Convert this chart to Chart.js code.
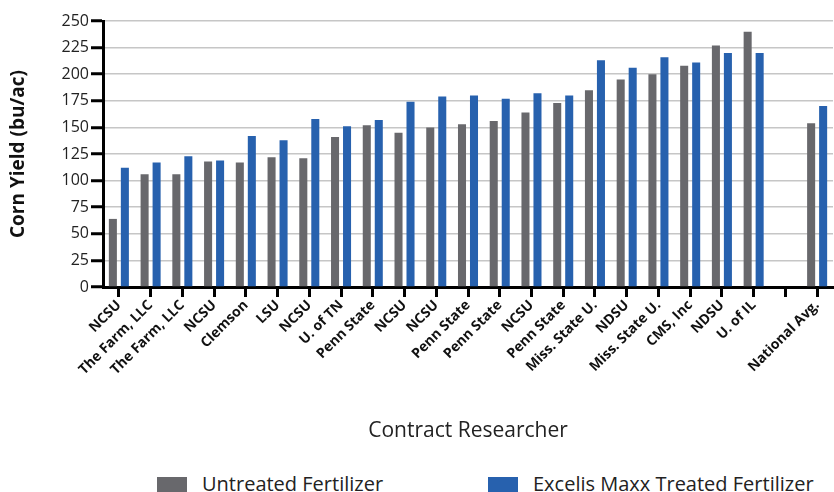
<!DOCTYPE html>
<html>
<head>
<meta charset="utf-8">
<script src="https://cdn.jsdelivr.net/npm/chart.js@4.4.1/dist/chart.umd.min.js"></script>
<style>
  body { margin: 0; background: #fff; font-family: "Open Sans", sans-serif; }
  #wrap { position: relative; width: 834px; height: 492px; overflow: hidden; }
  #box { position: absolute; left: 0; top: 0; width: 834px; height: 455px; }
  .lg { position: absolute; top: 474px; display: flex; align-items: flex-start; font-size: 20px; line-height: 20px; color: #222; }
  .lg span.sw { display: inline-block; width: 30px; height: 16px; margin-top: 3px; margin-right: 15px; }
</style>
</head>
<body>
<div id="wrap">
  <div id="box"><canvas id="yieldChart"></canvas></div>
  <div class="lg" id="lg0" style="left:157px"></div>
  <div class="lg" id="lg1" style="left:488px"></div>
</div>
<script>
const researchers = ["NCSU", "The Farm, LLC", "The Farm, LLC", "NCSU", "Clemson", "LSU", "NCSU", "U. of TN",
  "Penn State", "NCSU", "NCSU", "Penn State", "Penn State", "NCSU", "Penn State", "Miss. State U.",
  "NDSU", "Miss. State U.", "CMS, Inc", "NDSU", "U. of IL", "", "National Avg."];
const untreated = [64, 106, 106, 118, 117, 122, 121, 141, 152, 145, 150, 153, 156, 164, 173, 185,
  195, 200, 208, 227, 240, null, 154];
const excelisMaxx = [112, 117, 123, 119, 142, 138, 158, 151, 157, 174, 179, 180, 177, 182, 180, 213,
  206, 216, 211, 220, 220, null, 170];
const yTicks = [0, 25, 50, 75, 100, 125, 150, 175, 200, 225, 250];

const grayColor = "#68686c";
const blueColor = "#2761ae";

const ctx = document.getElementById("yieldChart").getContext("2d");
const chart = new Chart(ctx, {
    type: "bar",
    data: {
        labels: researchers,
        datasets: [{
            label: "Untreated Fertilizer",
            data: untreated,
            backgroundColor: grayColor,
            categoryPercentage: 0.756,
            barPercentage: 0.67
        }, {
            label: "Excelis Maxx Treated Fertilizer",
            data: excelisMaxx,
            backgroundColor: blueColor,
            categoryPercentage: 0.756,
            barPercentage: 0.67
        }]
    },
    options: {
        responsive: true,
        maintainAspectRatio: false,
        animation: false,
        layout: { padding: { top: 21, right: 1, left: 0, bottom: 0 } },
        plugins: {
            legend: { display: false },
            tooltip: { enabled: false }
        },
        scales: {
            x: {
                afterFit: s => { s.height = 455 - 287; },
                border: { color: "#000", width: 3 },
                grid: {
                    offset: false,
                    drawOnChartArea: false,
                    drawTicks: true,
                    tickLength: 10,
                    color: "#000",
                    lineWidth: 3
                },
                ticks: {
                    autoSkip: false,
                    minRotation: 45,
                    maxRotation: 45,
                    padding: 0,
                    color: "#111",
                    font: { family: "Open Sans", size: 14, weight: "bold" }
                },
                title: {
                    display: true,
                    text: "Contract Researcher",
                    color: "#222",
                    padding: { top: 0, bottom: 11 },
                    font: { family: "Open Sans", size: 21 }
                }
            },
            y: {
                min: 0,
                max: 250,
                afterFit: s => { s.width = 103; },
                afterBuildTicks: s => { s.ticks = yTicks.map(v => ({ value: v })); },
                border: { color: "#000", width: 3 },
                grid: {
                    color: "#c6c6c6",
                    lineWidth: 1.5,
                    tickColor: "#000",
                    tickWidth: 3,
                    tickLength: 12
                },
                ticks: {
                    padding: 2,
                    color: "#222",
                    font: { family: "Open Sans", size: 16, weight: "500" }
                },
                title: {
                    display: true,
                    text: "Corn Yield (bu/ac)",
                    color: "#111",
                    padding: { top: 7, bottom: 0 },
                    font: { family: "Open Sans", size: 19, weight: "bold" }
                }
            }
        }
    }
});

chart.data.datasets.forEach((ds, i) => {
    const el = document.getElementById("lg" + i);
    el.innerHTML = '<span class="sw" style="background:' + ds.backgroundColor + '"></span>' + ds.label;
});
</script>
</body>
</html>
